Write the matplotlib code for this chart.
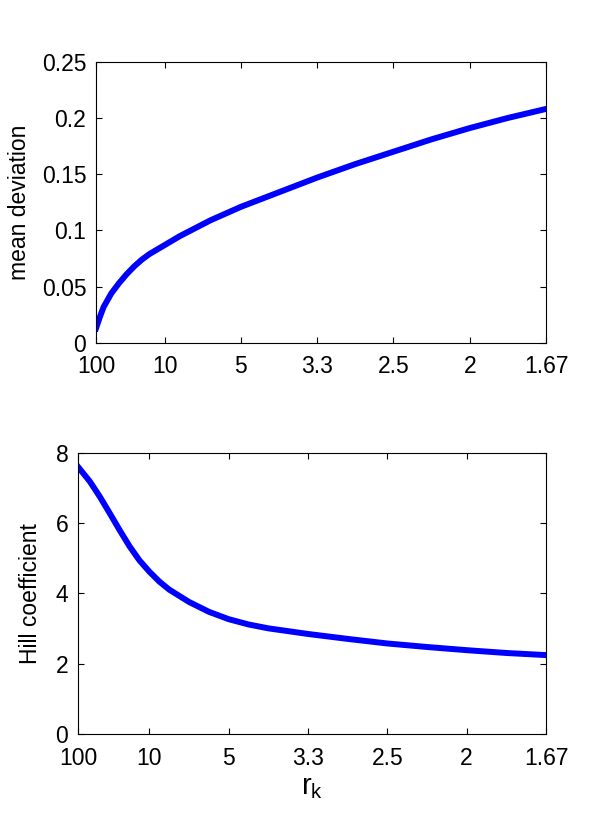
import matplotlib
matplotlib.use("Agg")
import matplotlib.pyplot as plt
import numpy as np

plt.rcParams['font.family'] = ['Liberation Sans', 'DejaVu Sans']

# x axis is 1/r_k, labelled with r_k
inv_rk_top = [0.01, 0.015, 0.02, 0.03, 0.04, 0.05, 0.06, 0.07, 0.08, 0.09, 0.10, 0.12,
              0.14, 0.16, 0.18, 0.20, 0.25, 0.30, 0.35, 0.40, 0.45, 0.50, 0.55, 0.60]
mean_dev = [0.013, 0.023, 0.032, 0.044, 0.053, 0.061, 0.068, 0.074, 0.079, 0.083, 0.087, 0.095,
            0.102, 0.109, 0.115, 0.121, 0.134, 0.147, 0.159, 0.170, 0.181, 0.191, 0.200, 0.208]

inv_rk_bot = [0.01, 0.025, 0.0375, 0.05, 0.0625, 0.075, 0.0875, 0.10, 0.1125, 0.125, 0.15,
              0.175, 0.20, 0.225, 0.25, 0.30, 0.35, 0.40, 0.45, 0.50, 0.55, 0.60]
hill = [7.60, 7.18, 6.75, 6.28, 5.80, 5.34, 4.94, 4.62, 4.34, 4.11, 3.76,
        3.48, 3.27, 3.12, 3.01, 2.85, 2.71, 2.58, 2.48, 2.39, 2.31, 2.25]

xticks = [0.01, 0.1, 0.2, 0.3, 0.4, 0.5, 0.6]
xticklabels = ['100', '10', '5', '3.3', '2.5', '2', '1.67']

fig = plt.figure(figsize=(6, 8.27), dpi=100)
ax1 = fig.add_axes([0.16, 0.5853, 0.75, 0.3401])
ax2 = fig.add_axes([0.13, 0.1121, 0.78, 0.3405])

for ax in (ax1, ax2):
    ax.set_xlim(0.01, 0.6)
    ax.set_xticks(xticks)
    ax.set_xticklabels(xticklabels)
    ax.tick_params(direction='in', length=4, width=0.8, top=True, right=True,
                   labelsize=16.5)
    ax.tick_params(axis='x', pad=9)
    ax.tick_params(axis='y', pad=7)
    for s in ax.spines.values():
        s.set_linewidth(0.8)

ax1.plot(inv_rk_top, mean_dev, color='#0000ff', lw=4.3)
ax1.set_ylim(0, 0.25)
ax1.set_yticks([0, 0.05, 0.1, 0.15, 0.2, 0.25])
ax1.set_yticklabels(['0', '0.05', '0.1', '0.15', '0.2', '0.25'])
ax1.set_ylabel('mean deviation', fontsize=16.5, labelpad=8)

ax2.plot(inv_rk_bot, hill, color='#0000ff', lw=4.3)
ax2.set_ylim(0, 8)
ax2.set_yticks([0, 2, 4, 6, 8])
ax2.set_ylabel('Hill coefficient', fontsize=16.5, labelpad=10)
ax2.set_xlabel('$\\mathregular{r_k}$', fontsize=21, labelpad=2)

fig.savefig('out.png', dpi=100)
